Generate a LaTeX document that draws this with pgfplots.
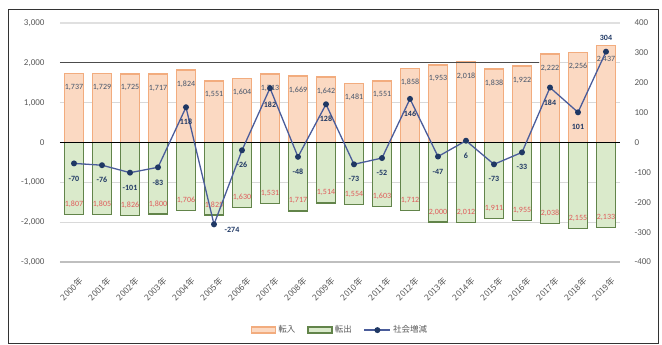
\documentclass[border=0pt]{standalone}
\usepackage{fontspec}
\setmainfont{Carlito}
\newfontfamily\jp{Noto Sans CJK JP}
\usepackage{pgfplots}
\usepackage{pgfplotstable}
\pgfplotsset{compat=1.18}

\definecolor{inFill}{HTML}{FBD9C2}
\definecolor{inEdge}{HTML}{F2AC7E}
\definecolor{outFill}{HTML}{DAEACB}
\definecolor{outEdge}{HTML}{62844A}
\definecolor{netLine}{HTML}{4A5C9A}
\definecolor{netDot}{HTML}{1F3864}
\definecolor{tickGray}{HTML}{595959}
\definecolor{gridGray}{HTML}{D9D9D9}
\definecolor{inText}{HTML}{44546A}
\definecolor{outText}{HTML}{E05A5A}

\pgfplotsset{
  barlegend/.style={legend image code/.code={\draw[##1] (0pt,-3pt) rectangle (24pt,3pt);}},
  linelegend/.style={legend image code/.code={\draw[mark repeat=2, mark phase=2, ##1] plot coordinates {(0pt,0pt) (13pt,0pt) (26pt,0pt)};}},
}

% x: year index (0 = 2000), in/out: persons, net: in - out, ldx/ldy: label offset
\pgfplotstableread{
x in out net ldx ldy
0 1737 1807 -70 0 -15
1 1729 1805 -76 0 -15
2 1725 1826 -101 0 -15
3 1717 1800 -83 0 -15
4 1824 1706 118 0 -15
5 1551 1825 -274 18 -6
6 1604 1630 -26 0 -15
7 1713 1531 182 0 -17
8 1669 1717 -48 0 -15
9 1642 1514 128 0 -15
10 1481 1554 -73 0 -15
11 1551 1603 -52 0 -15
12 1858 1712 146 0 -15
13 1953 2000 -47 0 -15
14 2018 2012 6 0 -15
15 1838 1911 -73 0 -15
16 1922 1955 -33 0 -15
17 2222 2038 184 0 -15
18 2256 2155 101 0 -15
19 2437 2133 304 0 14
}\migration

\begin{document}
\begin{tikzpicture}
\path[use as bounding box] (0,0) rectangle (662pt,345pt);
\draw[line width=1pt, black!80] (8pt,1pt) rectangle (658pt,335pt);

\begin{axis}[
  at={(60pt,83pt)}, anchor=south west,
  scale only axis, width=560pt, height=239pt,
  xmin=-0.5, xmax=19.5, ymin=-3000, ymax=3000,
  xtick={0,...,19},
  xticklabels={2000年,2001年,2002年,2003年,2004年,2005年,2006年,2007年,2008年,2009年,2010年,2011年,2012年,2013年,2014年,2015年,2016年,2017年,2018年,2019年},
  ytick={-3000,-2000,...,3000},
  ymajorgrids, grid style={gridGray, line width=0.8pt},
  axis line style={draw=none}, major tick length=0pt,
  tick label style={text=tickGray},
  yticklabel style={font=\fontsize{9}{10}\selectfont, anchor=east, xshift=-12pt},
  xticklabel style={font=\jp\fontsize{8.5}{9}\selectfont, rotate=45, anchor=north east, xshift=-4pt, yshift=-10pt},
  /pgf/number format/1000 sep={,},
  /pgf/number format/assume math mode=true,
  clip=false,
]
\draw[black!12, line width=2.5pt] (axis cs:-0.5,3000) -- (axis cs:19.5,3000);
\draw[black!25, line width=2.5pt] (axis cs:-0.5,-3000) -- (axis cs:19.5,-3000);
\addplot[ybar, bar width=19pt, bar shift=0pt, fill=inFill, draw=inEdge, line width=1.6pt]
  table[x=x, y=in] {\migration};
\addplot[ybar, bar width=19pt, bar shift=0pt, fill=outFill, draw=outEdge, line width=1.4pt]
  table[x=x, y expr=-\thisrow{out}] {\migration};
\draw[black!70, line width=0.8pt] (axis cs:-0.5,2000) -- (axis cs:16.6,2000);
\draw[black, line width=0.9pt] (axis cs:-0.5,0) -- (axis cs:19.5,0);
% value labels of both bar series
\addplot[draw=none, nodes near coords, point meta=explicit,
  every node near coord/.append style={anchor=center, yshift=-14pt, text=inText, font=\fontsize{8}{9}\selectfont, inner sep=0pt}]
  table[x=x, y=in, meta=in] {\migration};
\addplot[draw=none, nodes near coords, point meta=explicit,
  every node near coord/.append style={anchor=center, yshift=10pt, text=outText, font=\fontsize{8}{9}\selectfont, inner sep=0pt}]
  table[x=x, y expr=-\thisrow{out}, meta=out] {\migration};
\end{axis}

\begin{axis}[
  at={(60pt,83pt)}, anchor=south west,
  scale only axis, width=560pt, height=239pt,
  xmin=-0.5, xmax=19.5, ymin=-400, ymax=400,
  xtick=\empty,
  ytick={-400,-300,...,400},
  yticklabel pos=right,
  axis line style={draw=none}, major tick length=0pt,
  tick label style={text=tickGray},
  yticklabel style={font=\fontsize{9}{10}\selectfont, anchor=west, xshift=11pt},
  /pgf/number format/assume math mode=true,
  clip=false,
  legend style={at={(0.5,-0.285)}, anchor=center, legend columns=3, draw=none, fill=none,
    font=\jp\fontsize{8.5}{9}\selectfont, text=tickGray,
    /tikz/every even column/.append style={column sep=10pt}},
]
\addlegendimage{barlegend, fill=inFill, draw=inEdge, line width=1.4pt}
\addlegendentry{転入}
\addlegendimage{barlegend, fill=outFill, draw=outEdge, line width=1.4pt}
\addlegendentry{転出}
\addplot[netLine, line width=1.3pt, mark=*, mark size=2.3pt,
  mark options={fill=netDot, draw=netDot}, linelegend,
  nodes near coords, point meta=explicit,
  visualization depends on={\thisrow{ldx} \as \ldx},
  visualization depends on={\thisrow{ldy} \as \ldy},
  every node near coord/.append style={anchor=center, xshift=\ldx pt, yshift=\ldy pt,
    text=netDot, font=\bfseries\fontsize{8}{9}\selectfont, inner sep=0pt}]
  table[x=x, y=net, meta=net] {\migration};
\addlegendentry{社会増減}
\end{axis}
\end{tikzpicture}
\end{document}
